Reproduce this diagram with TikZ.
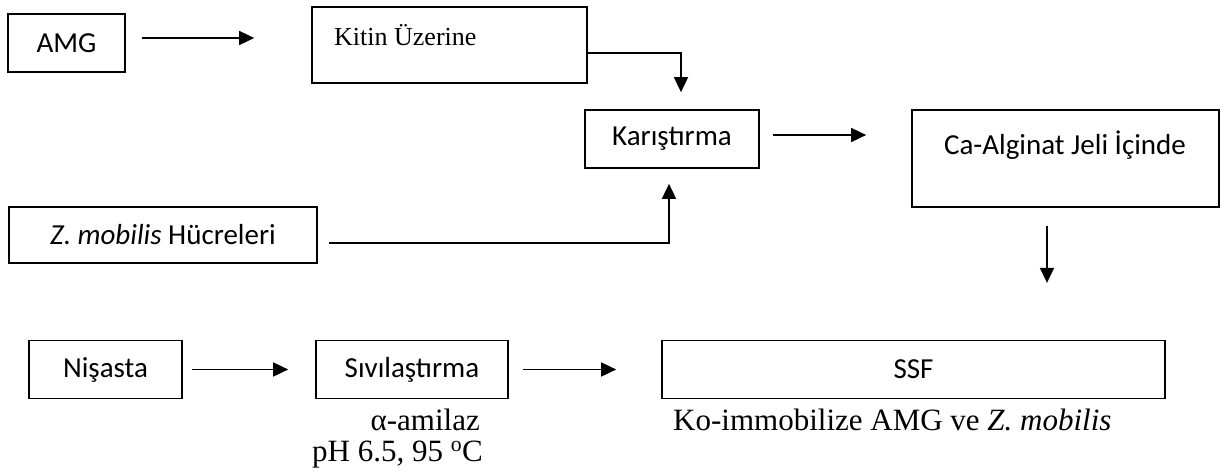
\documentclass[tikz,border=0pt]{standalone}
\usepackage{fontspec}
\setmainfont{Carlito}
\newfontfamily\serif{Liberation Serif}
\usetikzlibrary{arrows.meta}
\begin{document}
\begin{tikzpicture}[x=1pt,y=-1pt,
 box/.style={draw, line width=1.7pt, inner sep=0pt, font=\fontsize{29}{33}\selectfont},
 arr/.style={line width=1.7pt, -{Triangle[length=15pt,width=14pt]}},
 stxt/.style={font=\serif\fontsize{31}{35}\selectfont, inner sep=0pt}]
\useasboundingbox (0,0) rectangle (1224,474);
\node[box, minimum width=117pt, minimum height=58pt] (amg) at (66.5,43) {AMG};
\node[box, minimum width=275pt, minimum height=76pt] (kitin) at (449.5,45) {};
\node[stxt, font=\serif\fontsize{26}{30}\selectfont, anchor=base west] (kitint) at (334,45) {Kitin Üzerine};
\node[box, minimum width=174pt, minimum height=58pt] (kar) at (672,139) {Karıştırma};
\node[box, minimum width=307pt, minimum height=97pt] (ca) at (1065.5,158.5) {};
\node[inner sep=0pt, font=\fontsize{29}{33}\selectfont] (cat) at (1065,145) {Ca-Alginat Jeli İçinde};
\node[box, minimum width=308pt, minimum height=56pt] (zm) at (163,235) {\textit{Z. mobilis} Hücreleri};
\node[box, minimum width=153pt, minimum height=58pt] (nis) at (105.5,369.5) {Nişasta};
\node[box, minimum width=192pt, minimum height=58pt] (siv) at (412,369.5) {Sıvılaştırma};
\node[box, minimum width=503pt, minimum height=58pt] (ssf) at (913.5,369.5) {SSF};
\node[stxt, anchor=base east] (alpha) at (480,430) {α-amilaz};
\node[stxt, anchor=base east] (ph) at (483,461) {pH 6.5, 95 \textsuperscript{o}C};
\node[stxt, anchor=base west] (ko) at (673,430) {Ko-immobilize AMG ve \textit{Z. mobilis}};
\draw[arr] ([shift={(16,-5)}]amg.east) -- ([shift={(-57,-7)}]kitin.west);
\draw[arr] ([shift={(0,8)}]kitin.east) -| ([shift={(9,-17)}]kar.north);
\draw[arr] ([shift={(13,-4)}]kar.east) -- ([shift={(-45,-23.5)}]ca.west);
\draw[arr] ([shift={(11,8)}]zm.east) -| ([shift={(-3,15)}]kar.south);
\draw[arr] ([shift={(-18.5,18)}]ca.south) -- ([shift={(-18.5,75)}]ca.south);
\draw[arr] ([xshift=9pt]nis.east) -- ([xshift=-27pt]siv.west);
\draw[arr] ([xshift=14pt]siv.east) -- ([xshift=-45pt]ssf.west);
\end{tikzpicture}
\end{document}
